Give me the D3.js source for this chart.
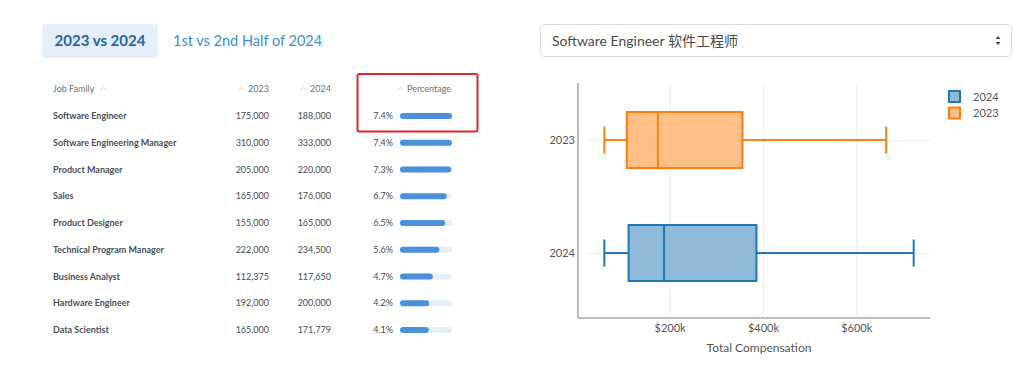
<!DOCTYPE html>
<html>
  <head>
    <meta charset="utf-8">
    <title>Job family compensation</title>
    <script src="https://d3js.org/d3.v7.min.js"></script>
    <style>
      body { margin: 0; background: #fff; font-family: Lato, "Noto Sans", "Noto Sans CJK SC", sans-serif; }
      svg { display: block; }
      .grid line { stroke: #eeeeee; stroke-width: 1; }
      .grid .domain { display: none; }
      .axis text { fill: #555; font-size: 11px; font-family: Lato, sans-serif; }
    </style>
  </head>
  <body>
    <svg id="chart" width="1024" height="382"></svg>
    <script>
      // table data
      var jobFamilies = ["Software Engineer", "Software Engineering Manager", "Product Manager", "Sales",
        "Product Designer", "Technical Program Manager", "Business Analyst", "Hardware Engineer", "Data Scientist"];
      var median2023 = [175000, 310000, 205000, 165000, 155000, 222000, 112375, 192000, 165000];
      var median2024 = [188000, 333000, 220000, 176000, 165000, 234500, 117650, 200000, 171779];
      var tableHeaders = ["Job Family", "2023", "2024", "Percentage"];
      var tabs = ["2023 vs 2024", "1st vs 2nd Half of 2024"];
      var selectedJob = "Software Engineer 软件工程师";

      // box plot data (Software Engineer)
      var boxYears = ["2023", "2024"];
      var boxLow = [60000, 60000];
      var boxQ1 = [108000, 112000];
      var boxMedian = [175000, 188000];
      var boxQ3 = [356000, 386000];
      var boxHigh = [664000, 723000];
      var xTicks = [200000, 400000, 600000];
      var legendYears = ["2024", "2023"];

      var colors = { "2023": "#ff7f0e", "2024": "#1f77b4" };
      var fills = { "2023": "#ffbf87", "2024": "#8fbbd9" };

      var svg = d3.select("#chart");
      var fmt = d3.format(",");

      // ---- tabs ----
      svg.append("rect")
        .attr("x", 42).attr("y", 24).attr("width", 116).attr("height", 34)
        .attr("rx", 4).attr("fill", "#e5eef9");
      svg.append("text")
        .attr("x", 100).attr("y", 46).attr("text-anchor", "middle")
        .attr("font-size", 15).attr("font-weight", 700).attr("fill", "#2565a8")
        .text(tabs[0]);
      svg.append("text")
        .attr("x", 173).attr("y", 46)
        .attr("font-size", 14.5).attr("fill", "#3a8dd4")
        .text(tabs[1]);

      // ---- table ----
      var pct = median2023.map(function(d, i) { return (median2024[i] - d) / d * 100; });
      var rowY = d3.scalePoint()
        .domain(jobFamilies)
        .range([116, 330]);
      var barX = d3.scaleLinear()
        .domain([0, d3.max(pct)])
        .range([0, 52]);
      var colRight = [null, 269, 331, 451];

      var header = svg.append("g").attr("font-size", 9).attr("fill", "#6b6f7a");
      header.append("text").attr("x", 53).attr("y", 92).text(tableHeaders[0]);
      header.append("path").attr("d", "M101,90 l2.5,-2.5 l2.5,2.5")
        .attr("fill", "none").attr("stroke", "#c0c4cc").attr("stroke-width", 0.8);
      [1, 2, 3].forEach(function(c) {
        var t = header.append("text").attr("x", colRight[c]).attr("y", 92)
          .attr("text-anchor", "end").text(tableHeaders[c]);
        var w = t.node().getComputedTextLength();
        header.append("path").attr("d", "M" + (colRight[c] - w - 9) + ",90 l2.5,-2.5 l2.5,2.5")
          .attr("fill", "none").attr("stroke", "#c0c4cc").attr("stroke-width", 0.8);
      });

      var rows = svg.append("g").selectAll("g")
        .data(jobFamilies)
        .join("g")
          .attr("transform", function(d) { return "translate(0," + rowY(d) + ")"; });
      rows.append("text")
        .attr("x", 53).attr("y", 3)
        .attr("font-size", 9).attr("font-weight", 700).attr("fill", "#4a4f5c")
        .text(function(d) { return d; });
      rows.append("text")
        .attr("x", colRight[1]).attr("y", 3).attr("text-anchor", "end")
        .attr("font-size", 9).attr("fill", "#454a56")
        .text(function(d, i) { return fmt(median2023[i]); });
      rows.append("text")
        .attr("x", colRight[2]).attr("y", 3).attr("text-anchor", "end")
        .attr("font-size", 9).attr("fill", "#454a56")
        .text(function(d, i) { return fmt(median2024[i]); });
      rows.append("text")
        .attr("x", 393).attr("y", 3).attr("text-anchor", "end")
        .attr("font-size", 9).attr("fill", "#454a56")
        .text(function(d, i) { return pct[i].toFixed(1) + "%"; });
      rows.append("rect")
        .attr("x", 400).attr("y", -3).attr("height", 6).attr("rx", 3)
        .attr("width", barX.range()[1]).attr("fill", "#e4eff9");
      rows.append("rect")
        .attr("x", 400).attr("y", -3).attr("height", 6).attr("rx", 3)
        .attr("width", function(d, i) { return barX(pct[i]); })
        .attr("fill", "#4a90da");

      // highlight
      svg.append("rect")
        .attr("x", 357.5).attr("y", 74).attr("width", 120).attr("height", 57.5)
        .attr("rx", 2).attr("fill", "none").attr("stroke", "#e0262a").attr("stroke-width", 2);

      // ---- dropdown ----
      svg.append("rect")
        .attr("x", 540.5).attr("y", 24.5).attr("width", 471).attr("height", 32)
        .attr("rx", 4).attr("fill", "#fff").attr("stroke", "#d9dce1");
      svg.append("text")
        .attr("x", 552).attr("y", 45.5)
        .attr("font-size", 14).attr("fill", "#4a4a4a")
        .text(selectedJob);
      svg.append("path").attr("d", "M995.5,39 l2.5,-3 l2.5,3 z M995.5,42 l2.5,3 l2.5,-3 z").attr("fill", "#444");

      // ---- box plot ----
      var plot = { left: 588, right: 930, top: 83, bottom: 318, axisX: 578 };
      var x = d3.scaleLinear()
        .domain([25000, 758000])
        .range([plot.left, plot.right]);
      var y = d3.scalePoint()
        .domain(boxYears)
        .range([plot.top + 57, plot.bottom - 65]);

      svg.append("g").attr("class", "grid")
        .attr("transform", "translate(0," + plot.bottom + ")")
        .call(d3.axisBottom(x).tickValues(xTicks).tickSize(plot.top - plot.bottom).tickFormat(""));
      svg.append("g").attr("class", "grid")
        .attr("transform", "translate(" + plot.left + ",0)")
        .call(d3.axisLeft(y).tickSize(plot.left - plot.right).tickFormat(""));

      var boxes = svg.append("g").selectAll("g")
        .data(boxYears)
        .join("g")
          .attr("transform", function(d) { return "translate(0," + y(d) + ")"; });
      boxes.append("line")
        .attr("x1", function(d, i) { return x(boxLow[i]); })
        .attr("x2", function(d, i) { return x(boxHigh[i]); })
        .attr("stroke", function(d) { return colors[d]; }).attr("stroke-width", 2);
      boxes.append("line")
        .attr("x1", function(d, i) { return x(boxLow[i]); })
        .attr("x2", function(d, i) { return x(boxLow[i]); })
        .attr("y1", -13.5).attr("y2", 13.5)
        .attr("stroke", function(d) { return colors[d]; }).attr("stroke-width", 2);
      boxes.append("line")
        .attr("x1", function(d, i) { return x(boxHigh[i]); })
        .attr("x2", function(d, i) { return x(boxHigh[i]); })
        .attr("y1", -13.5).attr("y2", 13.5)
        .attr("stroke", function(d) { return colors[d]; }).attr("stroke-width", 2);
      boxes.append("rect")
        .attr("x", function(d, i) { return x(boxQ1[i]); })
        .attr("width", function(d, i) { return x(boxQ3[i]) - x(boxQ1[i]); })
        .attr("y", -28).attr("height", 56)
        .attr("fill", function(d) { return fills[d]; })
        .attr("stroke", function(d) { return colors[d]; }).attr("stroke-width", 2);
      boxes.append("line")
        .attr("x1", function(d, i) { return x(boxMedian[i]); })
        .attr("x2", function(d, i) { return x(boxMedian[i]); })
        .attr("y1", -28).attr("y2", 28)
        .attr("stroke", function(d) { return colors[d]; }).attr("stroke-width", 2);

      // axes
      svg.append("path")
        .attr("d", "M" + plot.axisX + "," + plot.top + "V" + plot.bottom + "H" + plot.right)
        .attr("fill", "none").attr("stroke", "#a8a8a8").attr("stroke-width", 1.5);
      var xAxis = svg.append("g").attr("class", "axis")
        .attr("transform", "translate(0," + plot.bottom + ")")
        .call(d3.axisBottom(x).tickValues(xTicks).tickSize(0).tickPadding(6)
          .tickFormat(function(d) { return "$" + d / 1000 + "k"; }));
      xAxis.select(".domain").remove();
      var yAxis = svg.append("g").attr("class", "axis")
        .attr("transform", "translate(" + (plot.axisX - 3) + ",0)")
        .call(d3.axisLeft(y).tickSize(0).tickPadding(0));
      yAxis.select(".domain").remove();
      svg.append("text")
        .attr("x", 759).attr("y", 352).attr("text-anchor", "middle")
        .attr("font-size", 12).attr("fill", "#555")
        .text("Total Compensation");

      // legend
      var legend = svg.append("g").selectAll("g")
        .data(legendYears)
        .join("g")
          .attr("transform", function(d, i) { return "translate(949," + (91 + i * 16.5) + ")"; });
      legend.append("rect")
        .attr("width", 11).attr("height", 11)
        .attr("fill", function(d) { return fills[d]; })
        .attr("stroke", function(d) { return colors[d]; }).attr("stroke-width", 2);
      legend.append("text")
        .attr("x", 24).attr("y", 9.5)
        .attr("font-size", 11).attr("fill", "#555")
        .text(function(d) { return d; });
    </script>
  </body>
</html>
